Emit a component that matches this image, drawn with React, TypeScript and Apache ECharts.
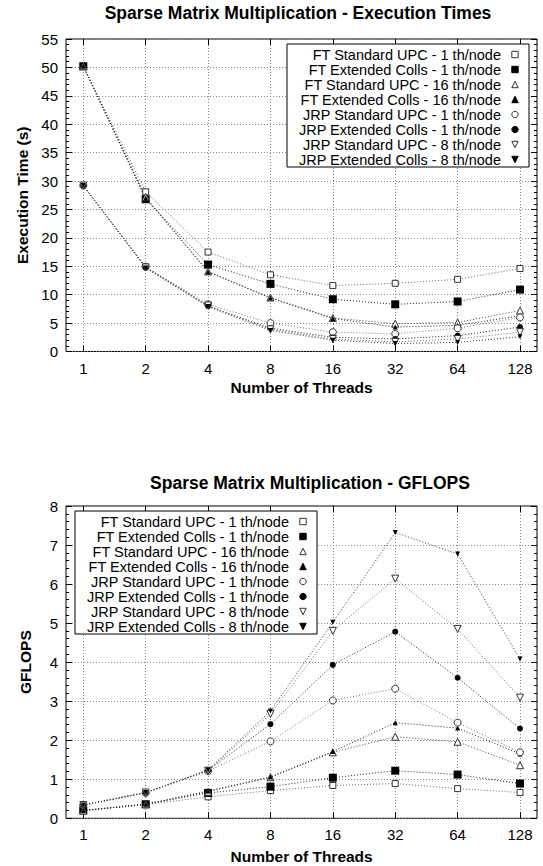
import React, { useEffect, useRef } from "react";
import * as echarts from "echarts";

const threads = ["1", "2", "4", "8", "16", "32", "64", "128"];

const seriesNames = [
  "FT Standard UPC - 1 th/node",
  "FT Extended Colls - 1 th/node",
  "FT Standard UPC - 16 th/node",
  "FT Extended Colls - 16 th/node",
  "JRP Standard UPC - 1 th/node",
  "JRP Extended Colls - 1 th/node",
  "JRP Standard UPC - 8 th/node",
  "JRP Extended Colls - 8 th/node",
];

// Execution times (s)
const timeFtStdUpc1 = [50.2, 28.1, 17.5, 13.5, 11.6, 12.0, 12.7, 14.6];
const timeFtExtColls1 = [50.2, 26.8, 15.3, 11.9, 9.2, 8.3, 8.8, 10.9];
const timeFtStdUpc16 = [50.2, 27.2, 14.1, 9.5, 5.9, 4.9, 5.1, 7.2];
const timeFtExtColls16 = [50.2, 27.0, 14.0, 9.4, 5.8, 4.3, 4.6, 6.3];
const timeJrpStdUpc1 = [29.2, 14.9, 8.3, 5.0, 3.4, 3.1, 4.1, 6.0];
const timeJrpExtColls1 = [29.2, 14.8, 8.0, 4.1, 2.5, 2.2, 2.8, 4.3];
const timeJrpStdUpc8 = [29.2, 14.8, 8.1, 3.9, 2.2, 1.7, 2.2, 3.4];
const timeJrpExtColls8 = [29.2, 14.7, 7.9, 3.7, 2.0, 1.4, 1.6, 2.6];

// GFLOPS
const gfFtStdUpc1 = [0.2, 0.35, 0.55, 0.71, 0.84, 0.89, 0.76, 0.66];
const gfFtExtColls1 = [0.2, 0.36, 0.65, 0.81, 1.04, 1.22, 1.12, 0.89];
const gfFtStdUpc16 = [0.2, 0.36, 0.68, 1.05, 1.69, 2.09, 1.96, 1.36];
const gfFtExtColls16 = [0.2, 0.36, 0.7, 1.06, 1.71, 2.45, 2.31, 1.65];
const gfJrpStdUpc1 = [0.34, 0.65, 1.21, 1.97, 3.02, 3.32, 2.45, 1.69];
const gfJrpExtColls1 = [0.34, 0.66, 1.23, 2.41, 3.93, 4.78, 3.6, 2.3];
const gfJrpStdUpc8 = [0.34, 0.66, 1.22, 2.67, 4.8, 6.14, 4.85, 3.09];
const gfJrpExtColls8 = [0.34, 0.66, 1.24, 2.75, 5.02, 7.32, 6.77, 4.08];

const timeSeries = [
  timeFtStdUpc1, timeFtExtColls1, timeFtStdUpc16, timeFtExtColls16,
  timeJrpStdUpc1, timeJrpExtColls1, timeJrpStdUpc8, timeJrpExtColls8,
];
const gflopsSeries = [
  gfFtStdUpc1, gfFtExtColls1, gfFtStdUpc16, gfFtExtColls16,
  gfJrpStdUpc1, gfJrpExtColls1, gfJrpStdUpc8, gfJrpExtColls8,
];

const FONT = "'Liberation Sans', Arial, Helvetica, sans-serif";

// marker styles: [symbol, size, hollow, rotate]
const markers: [string, number, boolean, number][] = [
  ["rect", 6, true, 0],
  ["rect", 8, false, 0],
  ["triangle", 7, true, 0],
  ["triangle", 5, false, 0],
  ["circle", 7, true, 0],
  ["circle", 6, false, 0],
  ["triangle", 7, true, 180],
  ["triangle", 5, false, 180],
];

const lineColors = ["#666", "#222", "#444", "#222", "#777", "#222", "#666", "#333"];

function makeSeries(values: number[][], xIdx: number, yIdx: number) {
  return values.map((vals, i) => {
    const [sym, size, hollow, rot] = markers[i];
    return {
      type: "line",
      name: seriesNames[i],
      xAxisIndex: xIdx,
      yAxisIndex: yIdx,
      data: vals,
      symbol: sym,
      symbolSize: size,
      symbolRotate: rot,
      showAllSymbol: true,
      lineStyle: { color: lineColors[i], width: 1, type: [1, 2] },
      itemStyle: hollow
        ? { color: "#fff", borderColor: "#333", borderWidth: 1 }
        : { color: "#000", borderColor: "#000", borderWidth: 0 },
      emphasis: { disabled: true },
      z: 3,
    };
  });
}

const gridLine = { show: true, lineStyle: { color: "#888", width: 1, type: [1, 2] } };

function frameY(gridIndex: number, max: number, interval: number, name: string) {
  return [
    {
      gridIndex,
      type: "value",
      position: "left",
      min: 0,
      max,
      interval,
      name,
      nameLocation: "middle",
      nameGap: 33,
      nameTextStyle: { fontFamily: FONT, fontSize: 15.5, fontWeight: "bold", color: "#000" },
      axisLine: { show: false },
      axisTick: { show: true, inside: true, length: 6, lineStyle: { color: "#000" } },
      minorTick: { show: true, splitNumber: 5, length: 3, lineStyle: { color: "#000" } },
      axisLabel: { fontFamily: FONT, fontSize: 15, color: "#000", margin: 8 },
      splitLine: gridLine,
    },
    {
      gridIndex,
      type: "value",
      position: "right",
      min: 0,
      max,
      interval,
      axisLine: { show: false },
      axisTick: { show: true, inside: true, length: 6, lineStyle: { color: "#000" } },
      minorTick: { show: true, splitNumber: 5, length: 3, lineStyle: { color: "#000" } },
      axisLabel: { show: false },
      splitLine: { show: false },
    },
  ];
}

function dataX(gridIndex: number, nameGap: number) {
  return [
    {
      gridIndex,
      type: "category",
      data: threads,
      boundaryGap: false,
      position: "bottom",
      name: "Number of Threads",
      nameLocation: "middle",
      nameGap,
      nameTextStyle: { fontFamily: FONT, fontSize: 15.5, fontWeight: "bold", color: "#000" },
      axisLine: { show: false },
      axisTick: { show: true, inside: true, length: 6, alignWithLabel: true, lineStyle: { color: "#000" } },
      axisLabel: { fontFamily: FONT, fontSize: 15, color: "#000", margin: 9, interval: 0 },
      splitLine: gridLine,
    },
    {
      gridIndex,
      type: "category",
      data: threads,
      boundaryGap: false,
      position: "top",
      axisLine: { show: false },
      axisTick: { show: true, inside: true, length: 6, alignWithLabel: true, lineStyle: { color: "#000" } },
      axisLabel: { show: false },
      splitLine: { show: false },
    },
  ];
}

function legendAt(left: number, top: number) {
  return {
    orient: "vertical",
    left,
    top,
    align: "right",
    itemWidth: 18,
    itemHeight: 8,
    itemGap: 0,
    padding: [3, 5, 0, 6],
    borderColor: "#000",
    borderWidth: 1,
    borderRadius: 0,
    backgroundColor: "#fff",
    selectedMode: false,
    textStyle: { fontFamily: FONT, fontSize: 14.5, color: "#000", width: 208, lineHeight: 13.8 },
    lineStyle: { width: 0, opacity: 0 },
    itemStyle: { borderWidth: 1 },
    data: seriesNames,
    z: 10,
  };
}

export default function App() {
  const ref = useRef<HTMLDivElement>(null);
  useEffect(() => {
    if (!ref.current) return;
    const chart = echarts.init(ref.current, null, { renderer: "svg" });
    const option: any = {
      animation: false,
      backgroundColor: "#fff",
      title: [
        {
          text: "Sparse Matrix Multiplication - Execution Times",
          left: 298,
          top: 4,
          textAlign: "center",
          padding: 0,
          textStyle: { fontFamily: FONT, fontSize: 17.5, fontWeight: "bold", color: "#000" },
        },
        {
          text: "Sparse Matrix Multiplication - GFLOPS",
          left: 310,
          top: 474,
          textAlign: "center",
          padding: 0,
          textStyle: { fontFamily: FONT, fontSize: 17.5, fontWeight: "bold", color: "#000" },
        },
      ],
      grid: [
        { left: 66, top: 39, width: 471, height: 312.5, show: true, borderColor: "#000", borderWidth: 1, backgroundColor: "transparent" },
        { left: 83.3, top: 39, width: 436.7, height: 312.5 },
        { left: 66, top: 506, width: 471, height: 312.3, show: true, borderColor: "#000", borderWidth: 1, backgroundColor: "transparent" },
        { left: 83.3, top: 506, width: 436.7, height: 312.3 },
      ],
      xAxis: [
        { gridIndex: 0, type: "value", min: 0, max: 1, show: false },
        ...dataX(1, 28),
        { gridIndex: 2, type: "value", min: 0, max: 1, show: false },
        ...dataX(3, 30),
      ],
      yAxis: [
        ...frameY(0, 55, 5, "Execution Time (s)"),
        { gridIndex: 1, type: "value", min: 0, max: 55, show: false },
        ...frameY(2, 8, 1, "GFLOPS"),
        { gridIndex: 3, type: "value", min: 0, max: 8, show: false },
      ],
      legend: [legendAt(287, 44), legendAt(75, 511)],
      series: [...makeSeries(timeSeries, 1, 2), ...makeSeries(gflopsSeries, 4, 5)],
    };
    chart.setOption(option);
    return () => chart.dispose();
  }, []);
  return (
    <div
      ref={ref}
      style={{ position: "absolute", left: 0, top: 0, width: 543, height: 866, background: "#fff" }}
    />
  );
}
